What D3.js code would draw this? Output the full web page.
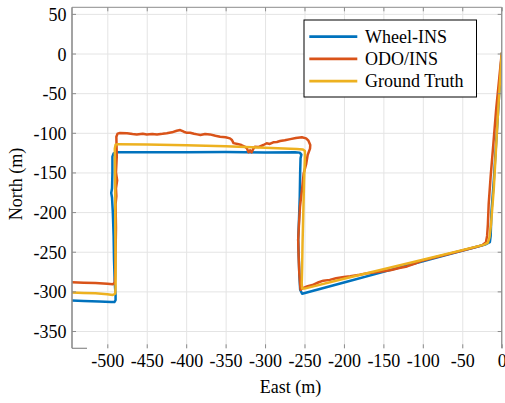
<!DOCTYPE html>
<html>
<head>
<meta charset="utf-8">
<script src="https://cdn.jsdelivr.net/npm/d3@7"></script>
<style>
  html, body { margin: 0; padding: 0; background: #fff; }
  svg { display: block; }
  svg text { font-family: "Liberation Serif", "Times New Roman", serif; fill: #000; }
</style>
</head>
<body>
<svg id="chart" width="505" height="403"></svg>
<script>
// Trajectory series: [East (m), North (m)]
const seriesNames = ["Wheel-INS", "ODO/INS", "Ground Truth"];
const seriesColors = ["#0072BD", "#D95319", "#EDB120"];

const wheelIns = [
  [-545, -311.5], [-530, -312], [-510, -312.8], [-495, -313.5], [-491, -313.5],
  [-489.5, -311], [-489.5, -305], [-490.5, -290], [-491.5, -260], [-492, -230],
  [-493, -200], [-494, -182], [-495, -176], [-494, -170], [-493.5, -150],
  [-493.5, -130], [-492, -126], [-488, -124.5], [-450, -124.4], [-400, -124.6],
  [-350, -124.3], [-300, -124.8], [-262, -124.6], [-256, -125], [-254, -127.5],
  [-255, -132], [-255.5, -150], [-256, -180], [-257, -210], [-258, -235],
  [-257.5, -250], [-256.5, -280], [-255.5, -298], [-253, -303], [-240, -299.5],
  [-200, -288.8], [-150, -275.4], [-100, -262], [-60, -251.3], [-30, -243.3],
  [-20, -240.5], [-15, -238], [-14, -230], [-13, -200], [-10, -160],
  [-5, -80], [0, 0]
];

const odoIns = [
  [-545, -288.5], [-530, -289], [-515, -289.5], [-500, -290.5], [-493, -291],
  [-490.5, -289], [-490, -280], [-489.5, -250], [-489, -220], [-489.5, -190],
  [-488.5, -180], [-489, -170], [-487.5, -160], [-489, -150], [-488, -130],
  [-488.5, -105], [-487, -101], [-484, -100.3], [-475, -100.6], [-468, -101.5],
  [-462.6, -102], [-455, -101.2], [-450, -102], [-443, -101.4], [-437, -102],
  [-430, -101.3], [-424.6, -100.6], [-418, -99.4], [-412, -97.4], [-407.6, -96.5],
  [-403, -98.6], [-399, -100], [-395, -99.9], [-390, -101.2], [-386, -102],
  [-382, -102.8], [-376, -101.6], [-370, -102], [-363, -103.8], [-357, -105],
  [-350, -105.6], [-344.5, -107], [-342, -109], [-340, -113], [-335, -114],
  [-330, -115.4], [-326, -117.3], [-323, -119.6], [-321, -124.6], [-319, -122],
  [-317, -124.6], [-315, -120.5], [-313, -117.5], [-308, -117.8], [-302, -115.4],
  [-298, -113.2], [-294, -114.1], [-289.6, -112], [-285, -111.6], [-281, -110.4],
  [-275, -109.5], [-268, -108], [-261, -106.6], [-253.3, -105.7], [-248, -107],
  [-245, -110], [-242.7, -115.4], [-243, -120], [-246, -128], [-248, -140],
  [-251, -151], [-253, -170], [-255.7, -193], [-257, -215], [-258, -235],
  [-257.5, -255], [-256.6, -277], [-255.5, -292], [-254.9, -298], [-252, -296],
  [-246, -293.5], [-240, -292], [-232, -288.5], [-226, -286.5], [-218, -285.5],
  [-210, -283.5], [-200, -282], [-192, -281], [-180, -279], [-170, -277],
  [-160, -276], [-150, -274.5], [-140, -273], [-130, -270.5], [-120, -268.5],
  [-110, -265], [-100, -261], [-80, -256], [-60, -251], [-40, -246],
  [-25, -242], [-20, -238], [-18.5, -230], [-17.5, -215], [-16.5, -190],
  [-14, -155], [-10.5, -113], [-7, -70], [-3, -30], [0, 0]
];

const groundTruth = [
  [-545, -301.5], [-530, -302], [-515, -302.5], [-500, -303.5], [-493, -304.5],
  [-490, -303], [-489.5, -295], [-489.5, -260], [-489.8, -220], [-490, -180],
  [-490.3, -140], [-490.5, -120], [-489.5, -115], [-486, -114.3], [-450, -114.8],
  [-400, -115.8], [-350, -117], [-300, -119], [-260, -120.5], [-252, -121],
  [-249.5, -123], [-249.5, -130], [-250.5, -160], [-251.5, -200], [-252.5, -240],
  [-253, -270], [-253.5, -290], [-253, -296.5], [-250, -296.5], [-200, -284],
  [-150, -272], [-100, -260], [-50, -248], [-22, -241], [-17.5, -238.5],
  [-15.5, -232], [-13.5, -215], [-10, -170], [-5, -80], [0, 0]
];

const xTicks = [-500, -450, -400, -350, -300, -250, -200, -150, -100, -50, 0];
const yTicks = [50, 0, -50, -100, -150, -200, -250, -300, -350];
const xLabel = "East (m)";
const yLabel = "North (m)";

const svg = d3.select("#chart");
const plot = { left: 72, right: 501.7, top: 7.3, bottom: 348.3 };

const x = d3.scaleLinear().domain([-544.75, 0]).range([plot.left, plot.right]);
const y = d3.scaleLinear().domain([58.3, -371.8]).range([plot.top, plot.bottom]);

const frameColor = "#8c8c8c";
const fontSize = 18;
const serif = '"Liberation Serif", "Times New Roman", serif';
const fmt = d => String(d); // plain hyphen-minus, as in the labels

// grid
svg.append("g")
  .attr("transform", `translate(0,${plot.bottom})`)
  .call(d3.axisBottom(x).tickValues(xTicks).tickSize(-(plot.bottom - plot.top)).tickFormat(""))
  .call(g => g.select(".domain").remove())
  .call(g => g.selectAll("line").attr("stroke", "#e4e4e4").attr("stroke-width", 1));
svg.append("g")
  .attr("transform", `translate(${plot.left},0)`)
  .call(d3.axisLeft(y).tickValues(yTicks).tickSize(-(plot.right - plot.left)).tickFormat(""))
  .call(g => g.select(".domain").remove())
  .call(g => g.selectAll("line").attr("stroke", "#e4e4e4").attr("stroke-width", 1));

// trajectories
svg.append("clipPath").attr("id", "plotClip")
  .append("rect")
  .attr("x", plot.left).attr("y", plot.top)
  .attr("width", plot.right - plot.left).attr("height", plot.bottom - plot.top);

const line = d3.line().x(d => x(d[0])).y(d => y(d[1]));
const allSeries = [wheelIns, odoIns, groundTruth];
svg.append("g").attr("clip-path", "url(#plotClip)")
  .selectAll("path")
  .data(allSeries)
  .join("path")
  .attr("d", line)
  .attr("fill", "none")
  .attr("stroke", (d, i) => seriesColors[i])
  .attr("stroke-width", 2.5)
  .attr("stroke-linejoin", "round")
  .attr("stroke-linecap", "round");

// axes with inward ticks
const tickLen = 4;
const axisStyle = g => {
  g.attr("font-family", null).attr("font-size", null);
  g.select(".domain").remove();
  g.selectAll("line").attr("stroke", frameColor).attr("stroke-width", 1);
  g.selectAll("text").style("font-family", serif).style("font-size", fontSize + "px").attr("fill", "#000");
};

svg.append("g")
  .attr("transform", `translate(0,${plot.bottom})`)
  .call(d3.axisBottom(x).tickValues(xTicks).tickSize(-tickLen).tickPadding(6).tickFormat(fmt))
  .call(axisStyle);
svg.append("g")
  .attr("transform", `translate(${plot.left},0)`)
  .call(d3.axisLeft(y).tickValues(yTicks).tickSize(-tickLen).tickPadding(5.5).tickFormat(fmt))
  .call(axisStyle)
  .call(g => g.selectAll("text").attr("dy", "0.36em"));
svg.append("g")
  .attr("transform", `translate(0,${plot.top})`)
  .call(d3.axisTop(x).tickValues(xTicks).tickSize(-tickLen).tickFormat(""))
  .call(axisStyle);
svg.append("g")
  .attr("transform", `translate(${plot.right},0)`)
  .call(d3.axisRight(y).tickValues(yTicks).tickSize(-tickLen).tickFormat(""))
  .call(axisStyle);

// frame
const frame = svg.append("g").attr("stroke", frameColor).attr("fill", "none");
frame.append("line").attr("x1", plot.left).attr("x2", plot.left)
  .attr("y1", plot.top).attr("y2", plot.bottom).attr("stroke-width", 1.6);
frame.append("line").attr("x1", plot.left).attr("x2", plot.right)
  .attr("y1", plot.top).attr("y2", plot.top).attr("stroke-width", 1);
frame.append("line").attr("x1", plot.right).attr("x2", plot.right)
  .attr("y1", plot.top).attr("y2", plot.bottom).attr("stroke-width", 1.2);
frame.append("line").attr("x1", plot.left).attr("x2", plot.left + 15)
  .attr("y1", plot.bottom).attr("y2", plot.bottom).attr("stroke-width", 1.2);

// axis titles
svg.append("text")
  .attr("x", 290.5).attr("y", 393)
  .attr("text-anchor", "middle")
  .style("font-size", fontSize + "px")
  .text(xLabel);
svg.append("text")
  .attr("transform", "translate(22,184) rotate(-90)")
  .attr("text-anchor", "middle")
  .style("font-size", fontSize + "px")
  .text(yLabel);

// legend
const legend = svg.append("g").attr("transform", "translate(304,20)");
legend.append("rect")
  .attr("x", 0).attr("y", 0).attr("width", 172.5).attr("height", 77)
  .attr("fill", "#fff").attr("stroke", "#000").attr("stroke-width", 1);
const rows = legend.selectAll("g.row")
  .data(seriesNames)
  .join("g").attr("class", "row")
  .attr("transform", (d, i) => `translate(0,${16.7 + i * 22.2})`);
rows.append("line")
  .attr("x1", 5.3).attr("x2", 53.3).attr("y1", 0).attr("y2", 0)
  .attr("stroke", (d, i) => seriesColors[i]).attr("stroke-width", 2.8);
rows.append("text")
  .attr("x", 61).attr("y", 0).attr("dy", "0.34em")
  .style("font-size", fontSize + "px")
  .text(d => d);
</script>
</body>
</html>
